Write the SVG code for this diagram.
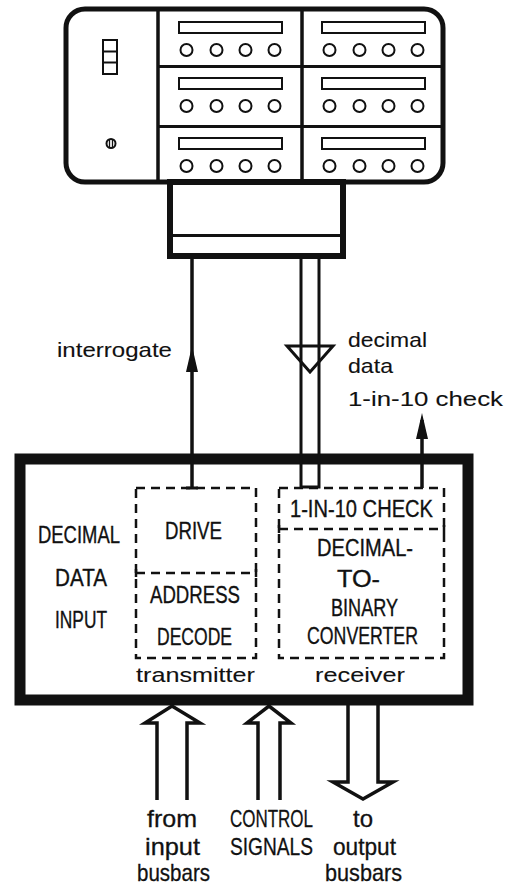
<svg xmlns="http://www.w3.org/2000/svg" width="506" height="885" viewBox="0 0 506 885">
  <style>
    .ink { stroke: #111; fill: none; }
    .dash { stroke: #111; fill: none; stroke-width: 2.5; stroke-dasharray: 9 6; }
    .head { fill: #111; stroke: none; }
    .slot { stroke: #111; fill: none; stroke-width: 2; }
    .knob { stroke: #111; fill: none; stroke-width: 2; }
    text { font-family: "Liberation Sans", Arial, sans-serif; fill: #111; }
    .cap { font-size: 23px; stroke: #111; stroke-width: 0.35; }
    .low { font-size: 21px; stroke: #111; stroke-width: 0.1; }
    .bot { font-size: 24px; stroke: #111; stroke-width: 0.3; }
  </style>
  <defs>
    <g id="drawer">
      <rect class="slot" x="0" y="0" width="103" height="11"/>
      <circle class="knob" cx="7.5" cy="28" r="6"/>
      <circle class="knob" cx="37.5" cy="28" r="6"/>
      <circle class="knob" cx="66.5" cy="28" r="6"/>
      <circle class="knob" cx="95.5" cy="28" r="6"/>
    </g>
  </defs>
  <rect width="506" height="885" fill="#fff"/>

  <!-- rack unit -->
  <g id="rack">
    <rect class="ink" x="66" y="9" width="377" height="173" rx="19" stroke-width="5"/>
    <line class="ink" x1="158" y1="9" x2="158" y2="182" stroke-width="3.5"/>
    <line class="ink" x1="302" y1="9" x2="302" y2="182" stroke-width="3.5"/>
    <line class="ink" x1="158" y1="66.5" x2="443" y2="66.5" stroke-width="3"/>
    <line class="ink" x1="158" y1="126.5" x2="443" y2="126.5" stroke-width="3"/>
    <use href="#drawer" x="179" y="22"/>
    <use href="#drawer" x="179" y="78"/>
    <use href="#drawer" x="179" y="138"/>
    <use href="#drawer" x="322" y="22"/>
    <use href="#drawer" x="322" y="78"/>
    <use href="#drawer" x="322" y="138"/>
    <!-- indicator lamps and key switch -->
    <rect class="slot" x="103" y="40" width="14" height="34"/>
    <line class="slot" x1="103" y1="51.5" x2="117" y2="51.5"/>
    <line class="slot" x1="103" y1="62.5" x2="117" y2="62.5"/>
    <circle class="knob" cx="111" cy="143.5" r="4.5"/>
    <line class="ink" x1="109.5" y1="140" x2="109.5" y2="147" stroke-width="1.3"/>
    <line class="ink" x1="112.5" y1="140" x2="112.5" y2="147" stroke-width="1.3"/>
  </g>

  <!-- cable head -->
  <g id="cable-head">
    <rect class="ink" x="170" y="182" width="173" height="74" stroke-width="6"/>
    <line class="ink" x1="170" y1="235.5" x2="343" y2="235.5" stroke-width="3"/>
  </g>

  <!-- main unit -->
  <g id="unit">
    <rect class="ink" x="20" y="459" width="448" height="241" stroke-width="11"/>
    <text class="cap" x="38" y="543" textLength="82" lengthAdjust="spacingAndGlyphs">DECIMAL</text>
    <text class="cap" x="55" y="586" textLength="52" lengthAdjust="spacingAndGlyphs">DATA</text>
    <text class="cap" x="55" y="628" textLength="52" lengthAdjust="spacingAndGlyphs">INPUT</text>
  </g>

  <g id="transmitter">
    <rect class="dash" x="136" y="488" width="120" height="170"/>
    <line class="dash" x1="136" y1="573" x2="256" y2="573"/>
    <line class="ink" x1="136" y1="569" x2="136" y2="577" stroke-width="2.5"/>
    <line class="ink" x1="256" y1="569" x2="256" y2="577" stroke-width="2.5"/>
    <text class="cap" x="165" y="539" textLength="57" lengthAdjust="spacingAndGlyphs">DRIVE</text>
    <text class="cap" x="150" y="603" textLength="90" lengthAdjust="spacingAndGlyphs">ADDRESS</text>
    <text class="cap" x="157" y="645" textLength="75" lengthAdjust="spacingAndGlyphs">DECODE</text>
    <text class="low" x="136" y="682" textLength="119" lengthAdjust="spacingAndGlyphs">transmitter</text>
  </g>

  <g id="receiver">
    <rect class="dash" x="279" y="488" width="165" height="170"/>
    <line class="dash" x1="279" y1="529" x2="444" y2="529"/>
    <line class="ink" x1="279" y1="525" x2="279" y2="533" stroke-width="2.5"/>
    <line class="ink" x1="444" y1="525" x2="444" y2="533" stroke-width="2.5"/>
    <text class="cap" x="290" y="517" textLength="143" lengthAdjust="spacingAndGlyphs">1-IN-10 CHECK</text>
    <text class="cap" x="317" y="556" textLength="96" lengthAdjust="spacingAndGlyphs">DECIMAL-</text>
    <text class="cap" x="337" y="587" textLength="43" lengthAdjust="spacingAndGlyphs">TO-</text>
    <text class="cap" x="331" y="616" textLength="67" lengthAdjust="spacingAndGlyphs">BINARY</text>
    <text class="cap" x="307" y="644" textLength="111" lengthAdjust="spacingAndGlyphs">CONVERTER</text>
    <text class="low" x="315" y="682" textLength="90" lengthAdjust="spacingAndGlyphs">receiver</text>
  </g>

  <!-- connectors -->
  <g id="connectors">
    <!-- interrogate -->
    <line class="ink" x1="192" y1="259" x2="192" y2="488" stroke-width="3.5"/>
    <line class="ink" x1="186" y1="488" x2="198" y2="488" stroke-width="3"/>
    <polygon class="head" points="192,346 198,372 186,372"/>
    <!-- decimal data pair -->
    <path class="ink" d="M301,259 V487 H319 V259" stroke-width="3"/>
    <polygon class="ink" points="287,346 333,346 310,372" stroke-width="3" stroke-linejoin="miter"/>
    <!-- 1-in-10 check -->
    <line class="ink" x1="422" y1="420" x2="422" y2="488" stroke-width="3.5"/>
    <polygon class="head" points="422,413 428,439 416,439"/>
    <!-- bus arrows -->
    <path class="ink" d="M157,800 V723 H145 L172,706 L200,723 H187 V800" stroke-width="3.5" stroke-linejoin="miter"/>
    <path class="ink" d="M258,800 V723 H247 L269,706 L291,723 H280 V800" stroke-width="3.5" stroke-linejoin="miter"/>
    <path class="ink" d="M348,705 V782 H333 L363,799 L393,782 H378 V705" stroke-width="3.5" stroke-linejoin="miter"/>
  </g>

  <!-- signal labels -->
  <g id="labels">
    <text class="low" x="57" y="357" textLength="115" lengthAdjust="spacingAndGlyphs">interrogate</text>
    <text class="low" x="348" y="347" textLength="79" lengthAdjust="spacingAndGlyphs">decimal</text>
    <text class="low" x="348" y="373" textLength="45" lengthAdjust="spacingAndGlyphs">data</text>
    <text class="low" x="348" y="406" textLength="155" lengthAdjust="spacingAndGlyphs">1-in-10 check</text>
    <text class="bot" x="147" y="827" textLength="50" lengthAdjust="spacingAndGlyphs">from</text>
    <text class="bot" x="145" y="855" textLength="55" lengthAdjust="spacingAndGlyphs">input</text>
    <text class="bot" x="137" y="881" textLength="73" lengthAdjust="spacingAndGlyphs">busbars</text>
    <text class="bot" x="230" y="827" textLength="83" lengthAdjust="spacingAndGlyphs">CONTROL</text>
    <text class="bot" x="230" y="855" textLength="83" lengthAdjust="spacingAndGlyphs">SIGNALS</text>
    <text class="bot" x="353" y="827" textLength="20" lengthAdjust="spacingAndGlyphs">to</text>
    <text class="bot" x="333" y="855" textLength="63" lengthAdjust="spacingAndGlyphs">output</text>
    <text class="bot" x="325" y="881" textLength="77" lengthAdjust="spacingAndGlyphs">busbars</text>
  </g>
</svg>
